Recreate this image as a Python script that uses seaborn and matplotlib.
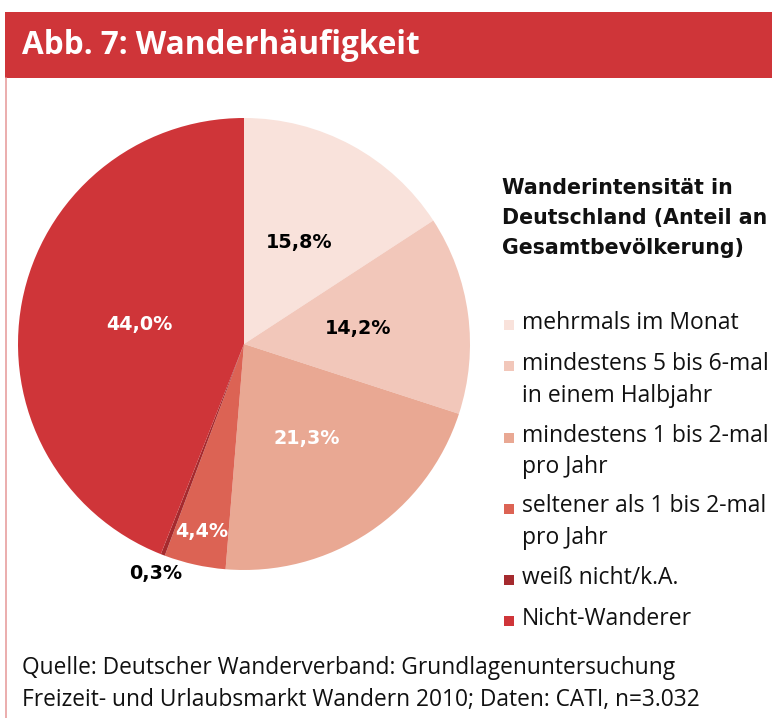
import numpy as np
import matplotlib.pyplot as plt
import seaborn as sns
from matplotlib.patches import Rectangle
from matplotlib.lines import Line2D

sns.set_theme(style="white")
plt.rcParams["font.family"] = ["DejaVu Sans"]

# ------------------------------------------------------------
# data
# ------------------------------------------------------------
title = "Abb. 7: Wanderhäufigkeit"
legend_title = "Wanderintensität in\nDeutschland (Anteil an\nGesamtbevölkerung)"
categories = [
    "mehrmals im Monat",
    "mindestens 5 bis 6-mal\nin einem Halbjahr",
    "mindestens 1 bis 2-mal\npro Jahr",
    "seltener als 1 bis 2-mal\npro Jahr",
    "weiß nicht/k.A.",
    "Nicht-Wanderer",
]
shares = [15.8, 14.2, 21.3, 4.4, 0.3, 44.0]
source = ("Quelle: Deutscher Wanderverband: Grundlagenuntersuchung\n"
          "Freizeit- und Urlaubsmarkt Wandern 2010; Daten: CATI, n=3.032")

colors = ["#F9E2DB", "#F2C7BA", "#E9A893", "#DC6354", "#A52A2E", "#CF3539"]
label_colors = ["black", "black", "white", "white", "black", "white"]

W, H = 772, 718
fig = plt.figure(figsize=(W / 100, H / 100), dpi=100)
fig.patch.set_facecolor("white")


def fx(x):
    return x / W


def fy(y):
    return 1 - y / H


# title bar + frame line
fig.add_artist(Rectangle((fx(5), fy(78)), fx(772) - fx(5), fy(12) - fy(78),
                         transform=fig.transFigure, color="#CF3539", lw=0))
fig.add_artist(Line2D([fx(6), fx(6)], [fy(78), 0], transform=fig.transFigure,
                      color="#E7A0A0", lw=1.2))
fig.text(fx(22), fy(46), title, color="white", fontsize=22.7, fontweight="bold",
         va="center", ha="left", family=["Open Sans"])

# ------------------------------------------------------------
# pie
# ------------------------------------------------------------
cx, cy, r = 244, 344, 226
ax = fig.add_axes([fx(cx - r), fy(cy + r), fx(2 * r), (2 * r) / H])
wedges, texts, autotexts = ax.pie(
    shares, colors=colors, startangle=90, counterclock=False,
    autopct=lambda p: f"{p:.1f}%".replace(".", ","),
    wedgeprops=dict(linewidth=0),
    textprops=dict(fontsize=13.8, fontweight="bold"),
)
ax.set_xlim(-1, 1)
ax.set_ylim(-1, 1)
ax.set_aspect("equal")
ax.axis("off")

label_dist = [0.51, 0.51, 0.5, 0.85, 1.09, 0.47]
for w, t, d, c in zip(wedges, autotexts, label_dist, label_colors):
    ang = np.deg2rad((w.theta1 + w.theta2) / 2)
    t.set_position((d * np.cos(ang), d * np.sin(ang)))
    t.set_color(c)
    t.set_clip_on(False)

# ------------------------------------------------------------
# legend (custom, markers aligned to first line)
# ------------------------------------------------------------
fig.text(fx(502), fy(178), legend_title, fontsize=14.8, fontweight="bold",
         va="top", ha="left", linespacing=1.62, color="#111111")

line_h, gap, y = 29.5, 12, 323
for cat, col in zip(categories, colors):
    fig.add_artist(Rectangle((fx(504), fy(y + 7)), fx(10), 10 / H,
                             transform=fig.transFigure, color=col, lw=0))
    fig.text(fx(522), fy(y - 12), cat, fontsize=16.5, va="top", ha="left",
             linespacing=1.43, color="#111111", family=["Open Sans"])
    y += line_h * (cat.count("\n") + 1) + gap

fig.text(fx(22), fy(656), source, fontsize=16.4, va="top", ha="left",
         linespacing=1.45, color="#111111", family=["Open Sans"])

fig.savefig("out.png", dpi=100)
